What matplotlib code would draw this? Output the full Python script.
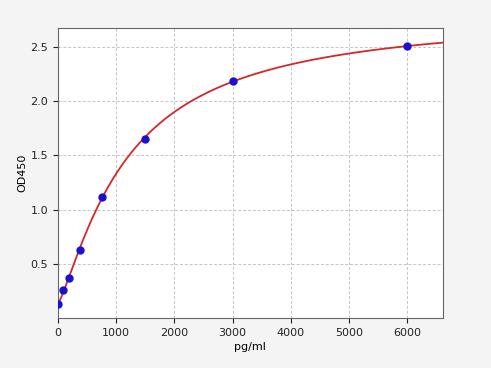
import numpy as np
import matplotlib
matplotlib.use("Agg")
import matplotlib.pyplot as plt

conc = [0, 94, 188, 375, 750, 1500, 3000, 6000]
od = [0.13, 0.26, 0.37, 0.63, 1.12, 1.655, 2.19, 2.505]
xticks = [0, 1000, 2000, 3000, 4000, 5000, 6000]
yticks = [0.5, 1.0, 1.5, 2.0, 2.5]

x = np.array(conc, float)
y = np.array(od, float)

def f4(p, x):
    a, b, c, d = p
    return d + (a - d) / (1 + (np.maximum(x, 0) / c) ** b)

# Levenberg-Marquardt fit of a 4PL curve
p = np.array([0.13, 1.0, 2000.0, 3.0])
lam = 1e-2
def sse(p):
    return np.sum((f4(p, x) - y) ** 2)
for _ in range(2000):
    r = f4(p, x) - y
    J = np.zeros((len(x), 4))
    for i in range(4):
        dp = np.zeros(4); h = 1e-6 * max(abs(p[i]), 1e-3); dp[i] = h
        J[:, i] = (f4(p + dp, x) - f4(p - dp, x)) / (2 * h)
    A = J.T @ J
    g = J.T @ r
    step = -np.linalg.solve(A + lam * np.diag(np.diag(A) + 1e-12), g)
    pn = p + step
    if pn[2] > 0 and pn[1] > 0 and sse(pn) < sse(p):
        p = pn; lam *= 0.5
    else:
        lam *= 3

fig = plt.figure(figsize=(4.91, 3.68), dpi=100, facecolor="#f4f4f4")
ax = fig.add_axes([0.118, 0.136, 0.784, 0.788])
ax.set_facecolor("white")
xs = np.linspace(0, 6650, 600)
ax.plot(xs, f4(p, xs), color="#d62728", lw=1.3, zorder=2)
ax.plot(x, y, "o", color="#1a10d0", ms=5, zorder=3)
ax.set_xlim(0, 6615)
ax.set_ylim(0.003, 2.675)
ax.set_xticks(xticks)
ax.set_yticks(yticks)
ax.grid(True, linestyle=(0, (3, 2)), color="#c4c4c4", lw=0.7)
ax.set_axisbelow(True)
for s in ax.spines.values():
    s.set_color("#666666")
ax.tick_params(labelsize=8, colors="#222222", length=3.5)
ax.set_xlabel("pg/ml", fontsize=8, labelpad=3)
ax.set_ylabel("OD450", fontsize=8, labelpad=2)
fig.savefig("out.png", dpi=100, facecolor=fig.get_facecolor())
